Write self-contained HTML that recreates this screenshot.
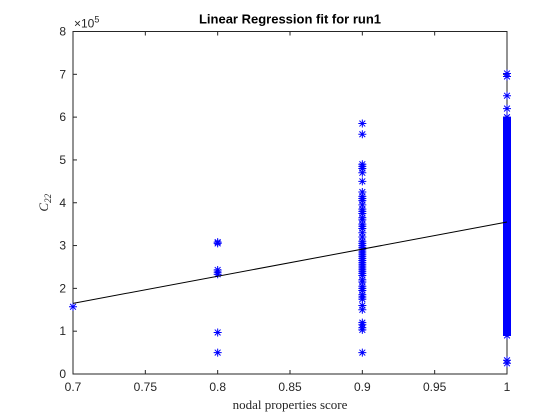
<!DOCTYPE html>
<html><head><meta charset="utf-8"><style>
body{margin:0;background:#fff}
svg{display:block;font-family:"Liberation Sans",sans-serif}
</style></head><body>
<svg id="chart" width="560" height="420" viewBox="0 0 560 420">
<rect width="560" height="420" fill="#fff"/>
<g id="axes"></g>
<g id="marks"></g>
</svg>
<script>
const xTicks=[0.7,0.75,0.8,0.85,0.9,0.95,1];
const xTickLabels=["0.7","0.75","0.8","0.85","0.9","0.95","1"];
const yTicks=[0,1,2,3,4,5,6,7,8];
const yTickLabels=["0","1","2","3","4","5","6","7","8"];
const pointsX07=[1.57];
const pointsX08=[0.5,0.97,2.33,2.38,2.43,3.05,3.08];
const pointsX09=[0.5,1.03,1.08,1.15,1.2,1.5,1.6,1.75,1.8,1.85,1.95,2.0,2.05,2.15,2.2,2.3,2.35,2.4,2.45,2.5,2.55,2.6,2.65,2.7,2.75,2.8,2.85,2.9,2.95,3.0,3.05,3.1,3.2,3.3,3.4,3.45,3.5,3.6,3.65,3.75,3.8,3.85,3.95,4.05,4.1,4.15,4.25,4.5,4.7,4.8,4.85,4.9,5.6,5.85];
const pointsX1=[0.25,0.32,0.9,1.0,1.1,1.2,1.3,1.4,1.5,1.6,1.7,1.8,1.9,2.0,2.1,2.2,2.3,2.4,2.5,2.6,2.7,2.8,2.9,3.0,3.1,3.2,3.3,3.4,3.5,3.6,3.7,3.8,3.9,4.0,4.1,4.2,4.3,4.4,4.5,4.6,4.7,4.8,4.9,5.0,5.1,5.2,5.3,5.4,5.5,5.6,5.7,5.8,5.9,6.0,6.2,6.5,6.95,7.02];
const fitX=[0.7,1];
const fitY=[1.65,3.55];
const L=73,R=507,T=31.5,B=374;
const sx=v=>L+(v-0.7)/0.3*(R-L);
const sy=v=>B-v/8*(B-T);
const NS="http://www.w3.org/2000/svg";
function mk(t,a,p){const e=document.createElementNS(NS,t);for(const k in a)e.setAttribute(k,a[k]);p.appendChild(e);return e;}
const ax=document.getElementById('axes'),mg=document.getElementById('marks');
const frame=mk('rect',{x:L,y:T,width:R-L,height:B-T,fill:'none',stroke:'#262626','stroke-width':1},ax);


xTicks.forEach((v,i)=>{const x=sx(v);
 mk('line',{x1:x,y1:B,x2:x,y2:B-4,stroke:'#262626'},ax);
 mk('line',{x1:x,y1:T,x2:x,y2:T+4,stroke:'#262626'},ax);
 const t=mk('text',{x:x,y:B+17,'text-anchor':'middle','font-size':12,fill:'#262626'},ax);t.textContent=xTickLabels[i];
 
 });
yTicks.forEach((v,i)=>{const y=sy(v);
 mk('line',{x1:L,y1:y,x2:L+4,y2:y,stroke:'#262626'},ax);
 mk('line',{x1:R,y1:y,x2:R-4,y2:y,stroke:'#262626'},ax);
 const t=mk('text',{x:L-7,y:y+4,'text-anchor':'end','font-size':12,fill:'#262626'},ax);t.textContent=yTickLabels[i];
 
 });
const ex=mk('text',{x:L+1,y:T-4,'font-size':12,fill:'#262626'},ax);ex.innerHTML='×10<tspan font-size="9" dy="-5">5</tspan>';


const ti=mk('text',{x:(L+R)/2,y:T-8,'text-anchor':'middle','font-size':13,'font-weight':'bold',fill:'#000'},ax);ti.textContent='Linear Regression fit for run1';


const xl=mk('text',{x:(L+R)/2,y:409,'text-anchor':'middle','font-size':13,'font-family':'Liberation Serif,serif',fill:'#262626'},ax);xl.textContent='nodal properties score';


const yl=mk('text',{transform:`translate(48,${(T+B)/2}) rotate(-90)`,'text-anchor':'middle','font-size':13,'font-style':'italic','font-family':'Liberation Serif,serif',fill:'#262626'},ax);yl.innerHTML='C<tspan font-size="9" dy="3">22</tspan>';


function star(xv,yv){const x=sx(xv),y=sy(yv),r=4,d=2.9;
 const p=mk('path',{d:`M${x-r},${y}H${x+r}M${x},${y-r}V${y+r}M${x-d},${y-d}L${x+d},${y+d}M${x-d},${y+d}L${x+d},${y-d}`,stroke:'#0000ff','stroke-width':1,fill:'none'},mg);
 
 }
pointsX07.forEach(v=>star(0.7,v));
pointsX08.forEach(v=>star(0.8,v));
pointsX09.forEach(v=>star(0.9,v));
pointsX1.forEach(v=>star(1,v));
const bar=mk('rect',{x:sx(1)-4,y:sy(6.0),width:8,height:sy(0.9)-sy(6.0),fill:'#0000ff'},mg);


const fl=mk('line',{x1:sx(fitX[0]),y1:sy(fitY[0]),x2:sx(fitX[1]),y2:sy(fitY[1]),stroke:'#000','stroke-width':1},mg);


</script>
</body></html>
